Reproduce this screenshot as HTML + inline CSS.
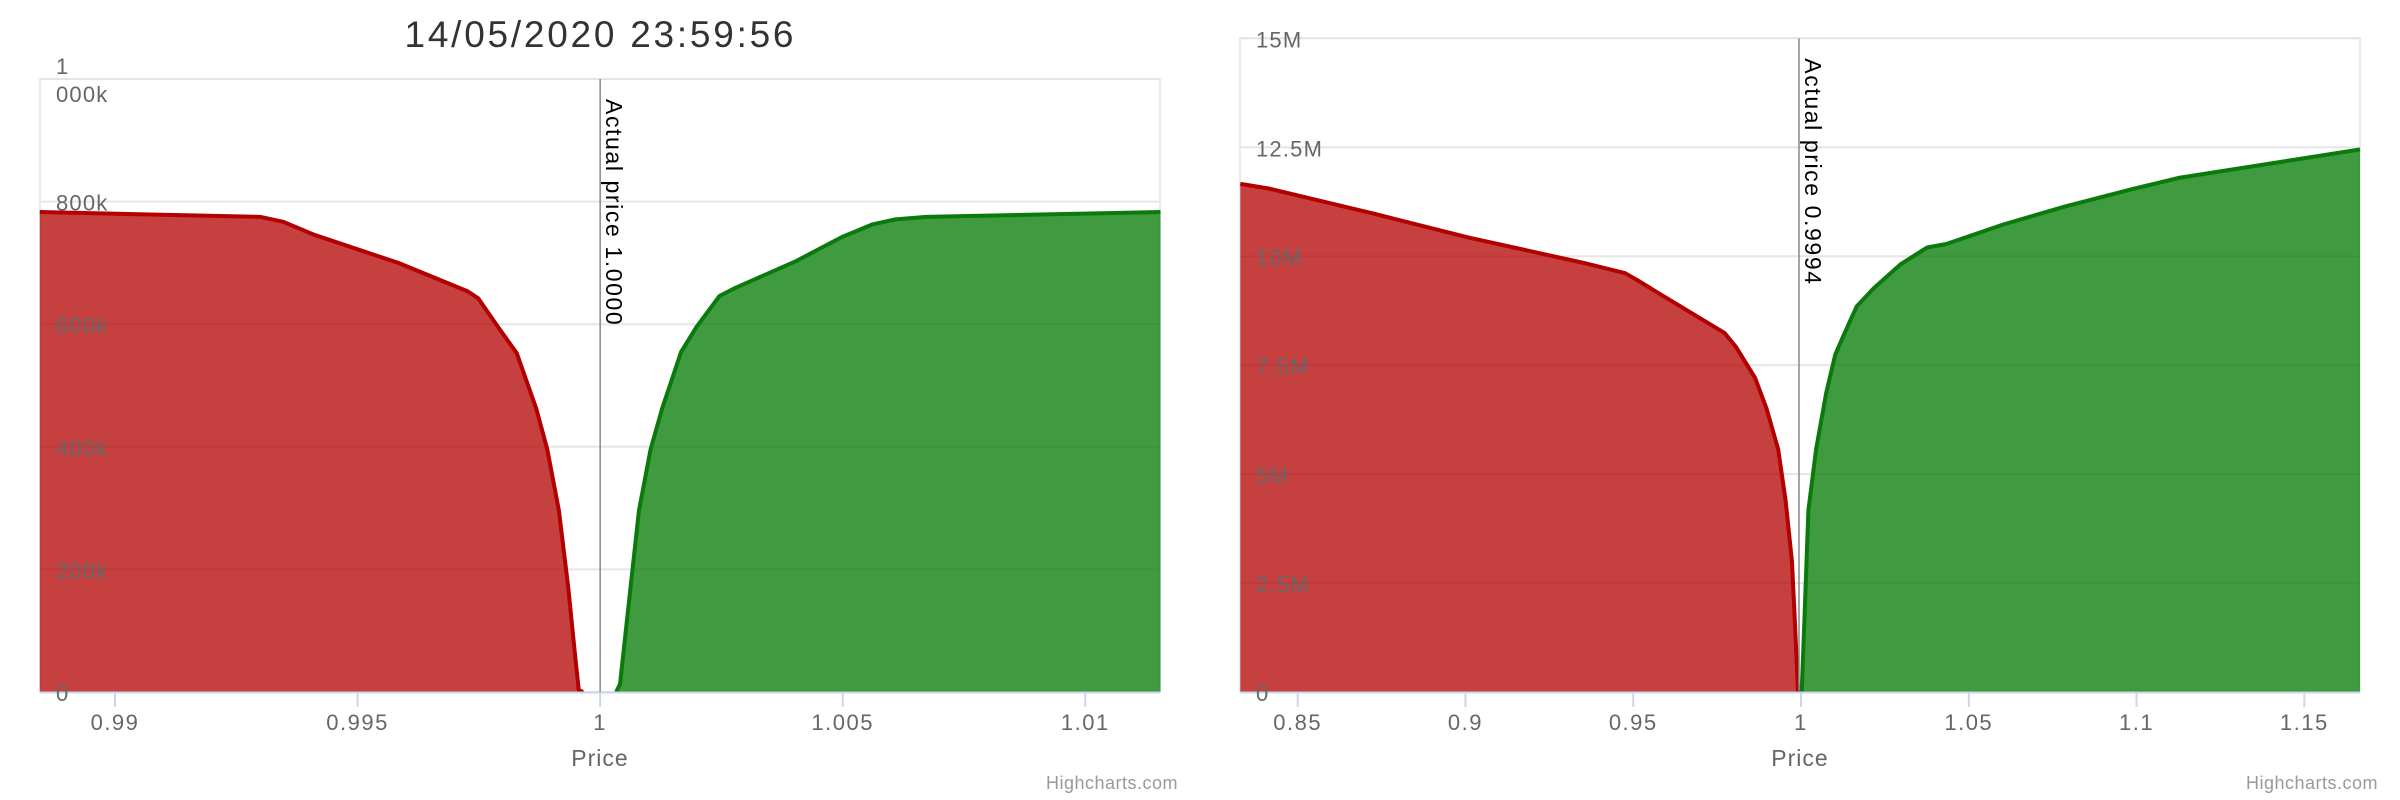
<!DOCTYPE html>
<html><head><meta charset="utf-8"><style>
html,body{margin:0;padding:0;background:#fff;}
svg{display:block;font-family:"Liberation Sans","DejaVu Sans",sans-serif;}
</style></head><body>
<svg id="root" width="2400" height="800" viewBox="0 0 2400 800">
<text x="599" y="47" text-anchor="middle" font-size="37" fill="#333" textLength="389" lengthAdjust="spacing">14/05/2020 23:59:56</text>
<g id="c1"></g>
<g id="c2"></g>
</svg>
<script>
const leftBidPrices=[0.98845,0.993,0.99347,0.9941,0.99584,0.99726,0.99749,0.99789,0.99828,0.99868,0.99891,0.99915,0.99934,0.9995,0.99956,0.99965];
const leftBidValues=[783000,775000,767000,746000,700000,654000,642000,596000,553000,463000,396000,296000,172000,47000,3000,0];
const leftAskPrices=[1.00033,1.00041,1.00057,1.0008,1.00104,1.00128,1.00167,1.00199,1.00246,1.00278,1.00404,1.00498,1.00562,1.00609,1.00672,1.01155];
const leftAskValues=[0,13000,130000,296000,396000,463000,555000,596000,646000,659000,703000,742000,763000,771000,775000,783000];
const leftXTicks=[0.99,0.995,1,1.005,1.01];
const leftXTickLabels=["0.99","0.995","1","1.005","1.01"];
const leftYTicks=[0,200000,400000,600000,800000,1000000];
const leftYTickLabels=["0","200k","400k","600k","800k","1 000k"];
const leftActual=[1.0];
const leftActualLabel=["Actual price 1.0000"];

const rightBidPrices=[0.8329,0.8416,0.8735,0.9008,0.935,0.9476,0.951,0.9578,0.9772,0.9806,0.9863,0.9897,0.9932,0.9954,0.9973,0.9984,0.9991];
const rightBidValues=[11.66e6,11.55e6,10.96e6,10.43e6,9.85e6,9.61e6,9.46e6,9.14e6,8.24e6,7.92e6,7.21e6,6.51e6,5.57e6,4.4e6,3.0e6,1.24e6,0];
const rightAskPrices=[1.0002,1.0011,1.0022,1.0045,1.0075,1.0102,1.0125,1.0166,1.0216,1.0296,1.0376,1.0433,1.0604,1.0786,1.0992,1.1128,1.1402,1.1666];
const rightAskValues=[0,1.83e6,4.17e6,5.57e6,6.86e6,7.74e6,8.15e6,8.85e6,9.26e6,9.81e6,10.2e6,10.28e6,10.73e6,11.14e6,11.55e6,11.8e6,12.13e6,12.45e6];
const rightXTicks=[0.85,0.9,0.95,1,1.05,1.1,1.15];
const rightXTickLabels=["0.85","0.9","0.95","1","1.05","1.1","1.15"];
const rightYTicks=[0,2.5e6,5e6,7.5e6,10e6,12.5e6,15e6];
const rightYTickLabels=["0","2.5M","5M","7.5M","10M","12.5M","15M"];
const rightActual=[0.9994];
const rightActualLabel=["Actual price 0.9994"];

const NS="http://www.w3.org/2000/svg";
function mk(p,t,a){const e=document.createElementNS(NS,t);for(const k in a)e.setAttribute(k,a[k]);p.appendChild(e);return e;}

function draw(g,cfg){
  const {L,R,T,B,xmin,xmax,ymax}=cfg;
  const sx=v=>L+(v-xmin)/(xmax-xmin)*(R-L);
  const sy=v=>B-v/ymax*(B-T);
  cfg.yTicks.forEach((v,i)=>{
    const ln=mk(g,'line',{x1:L,x2:R,y1:sy(v),y2:sy(v),stroke:'#e6e6e6','stroke-width':2});
    
    
  });
  mk(g,'rect',{x:L,y:T,width:R-L,height:B-T,fill:'none',stroke:'#dde3ee','stroke-width':1.5});
  function area(px,vals,fill,stroke,name){
    let d='M'+sx(px[0])+','+B;
    px.forEach((p,i)=>{d+=' L'+sx(p)+','+sy(vals[i]);});
    d+=' L'+sx(px[px.length-1])+','+B+' Z';
    const a=mk(g,'path',{d:d,fill:fill,'fill-opacity':0.75});
    
    
    let l='M'+px.map((p,i)=>sx(p)+','+sy(vals[i])).join(' L');
    const ln=mk(g,'path',{d:l,fill:'none',stroke:stroke,'stroke-width':4,'stroke-linejoin':'round'});
    
    
  }
  area(cfg.bidP,cfg.bidV,'#b30000','#b30000','bids');
  area(cfg.askP,cfg.askV,'#007a00','#0a7a0a','asks');
  const ax=mk(g,'line',{x1:L,x2:R,y1:B+0.5,y2:B+0.5,stroke:'#ccd6eb','stroke-width':2});
  
  
  cfg.xTicks.forEach((v,i)=>{
    const tk=mk(g,'line',{x1:sx(v),x2:sx(v),y1:B,y2:B+15,stroke:'#ccd6eb','stroke-width':2});
    
    
    const t=mk(g,'text',{x:sx(v),y:B+38,'text-anchor':'middle','font-size':22,'letter-spacing':1.5,fill:'#666'});
    t.textContent=cfg.xLabels[i];
    
    
  });
  cfg.yTicks.forEach((v,i)=>{
    const lab=cfg.yLabels[i];
    const t=mk(g,'text',{x:L+16,y:sy(v)+9,'font-size':22,'letter-spacing':1.2,fill:'#666'});
    if(lab.indexOf(' ')>0){
      const parts=lab.split(' ');
      t.setAttribute('y',sy(v)-5);
      t.textContent=parts[0];
      const t2=mk(g,'text',{x:L+16,y:sy(v)+23,'font-size':22,'letter-spacing':1.2,fill:'#666'});
      t2.textContent=parts[1];
      
      
    } else t.textContent=lab;
    
    
  });
  const px=sx(cfg.actual[0]);
  const pl=mk(g,'line',{x1:px,x2:px,y1:T,y2:B,stroke:'#888','stroke-width':1.5});
  
  
  const pt=mk(g,'text',{x:0,y:0,'font-size':23,'letter-spacing':1.6,fill:'#000',transform:'translate('+(px+6)+','+(T+20)+') rotate(90)'});
  pt.textContent=cfg.actualLabel[0];
  
  
  const xt=mk(g,'text',{x:(L+R)/2,y:766,'text-anchor':'middle','font-size':23,'letter-spacing':1,fill:'#666'});
  xt.textContent='Price';
  
  
  const cr=mk(g,'text',{x:R+18,y:789,'text-anchor':'end','font-size':18,'letter-spacing':0.5,fill:'#999'});
  cr.textContent='Highcharts.com';
  
  
}
draw(document.getElementById('c1'),{L:40,R:1160,T:79,B:692,xmin:0.988454,xmax:1.01154,ymax:1000000,
 bidP:leftBidPrices,bidV:leftBidValues,askP:leftAskPrices,askV:leftAskValues,xTicks:leftXTicks,xLabels:leftXTickLabels,
 yTicks:leftYTicks,yLabels:leftYTickLabels,actual:leftActual,actualLabel:leftActualLabel});
draw(document.getElementById('c2'),{L:1240,R:2360,T:38.3,B:692,xmin:0.8328,xmax:1.1666,ymax:15e6,
 bidP:rightBidPrices,bidV:rightBidValues,askP:rightAskPrices,askV:rightAskValues,xTicks:rightXTicks,xLabels:rightXTickLabels,
 yTicks:rightYTicks,yLabels:rightYTickLabels,actual:rightActual,actualLabel:rightActualLabel});
</script>
</body></html>
